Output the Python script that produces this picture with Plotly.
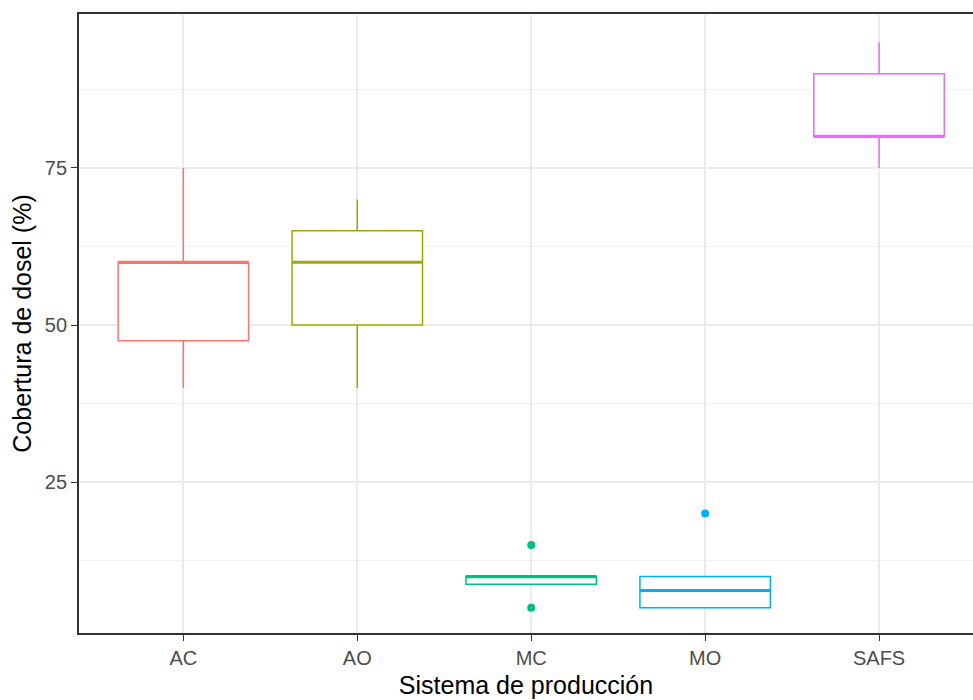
import plotly.graph_objects as go

# ---- data ----
categories = ["AC", "AO", "MC", "MO", "SAFS"]
lower_whisker = [40, 40, 10, 5, 75]
q1_values = [47.5, 50, 8.75, 5, 80]
median_values = [60, 60, 10, 7.75, 80]
q3_values = [60, 65, 10, 10, 90]
upper_whisker = [75, 70, 10, 10, 95]
outlier_cat = ["MC", "MC", "MO"]
outlier_values = [15, 5, 20]
y_ticks = [25, 50, 75]
y_minor_ticks = [12.5, 37.5, 62.5, 87.5]

colors = ["#F8766D", "#A3A500", "#00BF7D", "#00B0F6", "#E76BF3"]
BOX_W = 0.75
FONT = "Liberation Sans, Arial, sans-serif"

fig = go.Figure()
positions = list(range(len(categories)))

for i, cat in enumerate(categories):
    fig.add_trace(go.Box(
        x=[positions[i]],
        q1=[q1_values[i]], median=[median_values[i]], q3=[q3_values[i]],
        lowerfence=[lower_whisker[i]], upperfence=[upper_whisker[i]],
        width=BOX_W, whiskerwidth=0,
        line=dict(color=colors[i], width=1.5),
        fillcolor="white", boxpoints=False,
        showlegend=False, hoverinfo="skip",
    ))
    # thicker median line as in ggplot
    fig.add_trace(go.Scatter(
        x=[positions[i] - BOX_W / 2, positions[i] + BOX_W / 2],
        y=[median_values[i], median_values[i]],
        mode="lines", line=dict(color=colors[i], width=3),
        showlegend=False, hoverinfo="skip",
    ))

for cat, val in zip(outlier_cat, outlier_values):
    idx = categories.index(cat)
    fig.add_trace(go.Scatter(
        x=[positions[idx]], y=[val], mode="markers",
        marker=dict(color=colors[idx], size=8),
        showlegend=False, hoverinfo="skip",
    ))

fig.update_layout(
    width=973, height=700,
    margin=dict(l=79, r=0, t=14, b=67),
    paper_bgcolor="white", plot_bgcolor="white",
    font=dict(family=FONT),
    xaxis=dict(
        range=[-0.6, 4.54],
        tickvals=positions, ticktext=categories,
        showgrid=True, gridcolor="#EBEBEB", gridwidth=1.5,
        zeroline=False,
        showline=True, linecolor="#333333", linewidth=1.8, mirror=True,
        ticks="outside", ticklen=6, tickwidth=1.3, tickcolor="#333333",
        tickfont=dict(size=20, color="#4D4D4D", family=FONT),
        title=dict(text="Sistema de producción", font=dict(size=25, color="black", family=FONT), standoff=9),
    ),
    yaxis=dict(
        range=[1.0, 99.5],
        tickvals=y_ticks,
        showgrid=True, gridcolor="#EBEBEB", gridwidth=1.5,
        minor=dict(tickvals=y_minor_ticks, showgrid=True, gridcolor="#F1F1F1", gridwidth=1.2, ticks=""),
        zeroline=False,
        showline=True, linecolor="#333333", linewidth=1.8, mirror=False,
        ticks="outside", ticklen=6, tickwidth=1.3, tickcolor="#333333",
        tickfont=dict(size=20, color="#4D4D4D", family=FONT),
        title=dict(text="Cobertura de dosel (%)", font=dict(size=25, color="black", family=FONT), standoff=6),
    ),
)

fig.write_html("out.html")
